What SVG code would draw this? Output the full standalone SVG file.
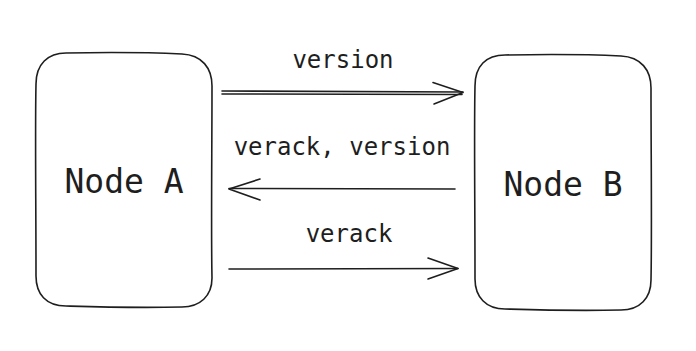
<svg xmlns="http://www.w3.org/2000/svg" width="696" height="351" viewBox="0 0 696 351">
<style>
.box{fill:#fff;stroke:#1e1e1e;stroke-width:1.6;stroke-linejoin:round}
.ln{fill:none;stroke:#1e1e1e;stroke-width:1.6;stroke-linecap:round;stroke-linejoin:round}
.t{font-family:"DejaVu Sans Mono","Liberation Mono",monospace;fill:#1e1e1e;text-anchor:middle}
.nt{font-size:33px}
.lt{font-size:24px}
</style>
<rect width="696" height="351" fill="#fff"/>
<g id="nodeA">
<path class="box" d="M66 53 C120 52 160 53 182 54 C202 55 212 68 212 86 C212 150 211 230 212 278 C212 296 200 307 182 307 C130 308 100 307 66 306 C46 306 36 294 36 276 C36 200 35 130 36 84 C36 64 48 53 66 53 Z"/>
<text class="t nt" x="124" y="193">Node A</text>
</g>
<g id="nodeB">
<path class="box" d="M505 55 C560 54 600 55 621 56 C641 57 651 70 651 88 C651 150 652 230 651 280 C651 298 640 310 621 310 C570 311 540 310 505 309 C486 309 475 297 475 279 C475 200 474 130 475 86 C475 66 486 55 505 55 Z"/>
<text class="t nt" x="563" y="196">Node B</text>
</g>
<g id="connectors">
<path class="ln" d="M222 91 L463 92 M222 94 L462 94.5"/>
<path class="ln" d="M433 82.5 L463 92.5 L434 104"/>
<path class="ln" d="M455 189 L229 188.5"/>
<path class="ln" d="M260 179 L229 189 L260 200"/>
<path class="ln" d="M229 269 L458 268.5"/>
<path class="ln" d="M428 258 L458 268.5 L428 279"/>
</g>
<g id="labels">
<text class="t lt" x="343" y="68">version</text>
<text class="t lt" x="342" y="155">verack, version</text>
<text class="t lt" x="349" y="242">verack</text>
</g>
</svg>
